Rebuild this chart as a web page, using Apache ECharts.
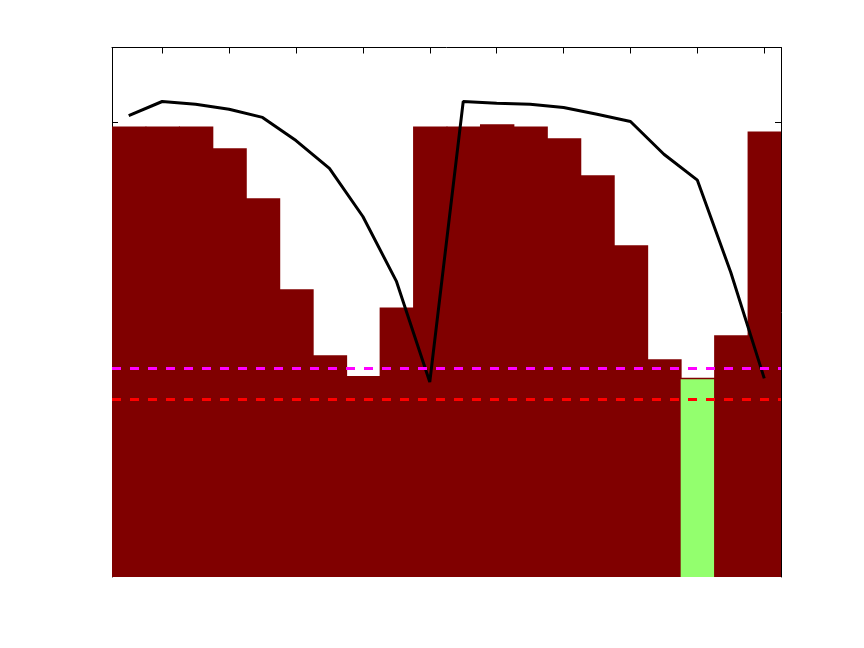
<!DOCTYPE html>
<html>
<head>
<meta charset="utf-8">
<script src="https://cdn.jsdelivr.net/npm/echarts@6/dist/echarts.min.js"></script>
<style>html,body{margin:0;padding:0;background:#fff;}#c{width:864px;height:648px;}</style>
</head>
<body>
<div id="c"></div>
<script>
const categories = ['1','2','3','4','5','6','7','8','9','10','11','12','13','14','15','16','17','18','19','20'];
const barValues = [0.991, 0.991, 0.991, 0.943, 0.833, 0.633, 0.488, 0.442, 0.593, 0.991,
                   0.991, 0.996, 0.991, 0.965, 0.884, 0.730, 0.479, 0.4385, 0.532, 0.980];
const highlightValues = [null, null, null, null, null, null, null, null, null, null,
                         null, null, null, null, null, null, null, 0.435, null, null];
const lineValues = [1.015, 1.046, 1.040, 1.029, 1.011, 0.960, 0.899, 0.793, 0.651, 0.429,
                    1.046, 1.042, 1.040, 1.033, 1.018, 1.002, 0.930, 0.873, 0.670, 0.437];
const magentaLevel = 0.4560;
const redLevel = 0.3901;
const yMin = 0, yMax = 1.1648, yInterval = 0.5;
const yTickValues = [0.5, 1.0];

const chart = echarts.init(document.getElementById('c'));
chart.setOption({
  backgroundColor: '#ffffff',
  animation: false,
  grid: { left: 112, right: 83, top: 47.5, bottom: 71, containLabel: false },
  xAxis: [
    { type: 'category', data: categories, position: 'bottom', boundaryGap: true, show: false,
      axisLine: { show: false, onZero: false }, axisTick: { show: false }, axisLabel: { show: false }, splitLine: { show: false } },
    { type: 'category', data: categories, position: 'top', boundaryGap: true,
      axisLine: { show: true, onZero: false, lineStyle: { color: '#000', width: 1 } },
      axisTick: { show: true, inside: true, length: 6, alignWithLabel: true,
                  interval: function (i) { return i % 2 === 1; },
                  lineStyle: { color: '#000', width: 1 } },
      axisLabel: { show: false }, splitLine: { show: false } }
  ],
  yAxis: [
    { type: 'value', min: yMin, max: yMax, interval: yInterval, position: 'left',
      axisLine: { show: true, onZero: false, lineStyle: { color: '#000', width: 1 } },
      axisTick: { show: true, inside: true, length: 6, customValues: yTickValues, lineStyle: { color: '#000' } },
      axisLabel: { show: false }, splitLine: { show: false } },
    { type: 'value', min: yMin, max: yMax, interval: yInterval, position: 'right',
      axisLine: { show: true, onZero: false, lineStyle: { color: '#000', width: 1 } },
      axisTick: { show: true, inside: true, length: 6, customValues: yTickValues, lineStyle: { color: '#000' } },
      axisLabel: { show: false }, splitLine: { show: false } }
  ],
  series: [
    { type: 'bar', data: barValues, xAxisIndex: 0, yAxisIndex: 0, barWidth: 34.4, barGap: '-100%',
      itemStyle: { color: '#800000' }, z: 2 },
    { type: 'bar', data: highlightValues, xAxisIndex: 0, yAxisIndex: 0, barWidth: 33.4, barGap: '-100%',
      itemStyle: { color: '#93ff6e' }, z: 2 },
    { type: 'line', data: [], xAxisIndex: 0, yAxisIndex: 0, z: 3, symbol: 'none',
      markLine: { silent: true, symbol: 'none', label: { show: false },
        data: [
          { yAxis: magentaLevel, lineStyle: { color: '#ff00ff', width: 3, type: [9, 9] } },
          { yAxis: redLevel, lineStyle: { color: '#ff0000', width: 3, type: [9, 9] } }
        ] } },
    { type: 'line', data: lineValues, xAxisIndex: 0, yAxisIndex: 0, z: 4, symbol: 'none',
      lineStyle: { color: '#000', width: 3 } }
  ]
});
</script>
</body>
</html>
